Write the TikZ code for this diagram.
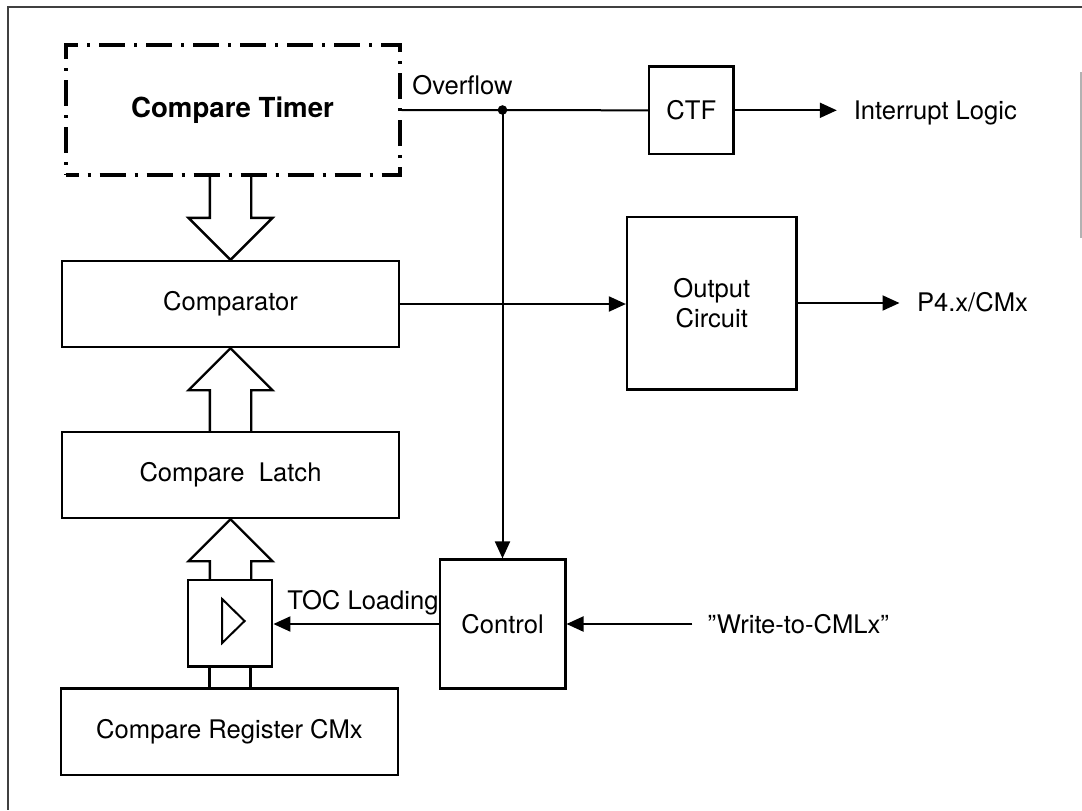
\documentclass[tikz,border=0pt]{standalone}
\usepackage{fontspec}
\setmainfont{TeX Gyre Heros}
\usetikzlibrary{arrows.meta,calc}

\begin{document}
\begin{tikzpicture}[x=0.5pt, y=-0.5pt,
                    line width=1pt,
                    font=\fontsize{12.8}{15}\selectfont,
                    >={Triangle[length=8.5pt,width=7.5pt]},
                    ]
    \tikzstyle{block}=[draw,line width=1.2pt,inner sep=0pt,align=center]
    \tikzstyle{wide}=[block,minimum width=168.5pt,minimum height=43pt]
    \tikzstyle{timerbox}=[block,line width=2pt,minimum width=167pt,minimum height=65pt,
                          dash pattern=on 13pt off 4.5pt on 1.5pt off 4.5pt,dash phase=6.5pt,
                          font=\fontsize{13.8}{16}\selectfont\bfseries]
    \tikzstyle{sigtext}=[inner sep=0pt,text height=9.2pt,text depth=0pt]
    \tikzstyle{bus}=[line width=1.2pt,line join=miter]
    \tikzstyle{frame}=[line width=0.7pt,black!75]

    \useasboundingbox (0,0) rectangle (1082,810);
    \path[draw,frame] (1082,7) -- (8,7) -- (8,810);
    \path[draw,frame,black!30] (1081,72) -- (1081,238);

    % left column
    \node[timerbox] (timer) at (232.5,110) {Compare Timer};
    \node[wide] (comp) at (230.5,304) {Comparator};
    \node[wide] (latch) at (230.5,475) {Compare\ \ Latch};
    \node[block,minimum width=42.2pt,minimum height=43.3pt] (buf) at (230,623.3) {};
    \node[wide,minimum height=43.3pt] (reg) at (229.5,731.7) {Compare Register CMx};

    % right side
    \node[block,minimum width=62.8pt,minimum height=64.4pt] (ctrl) at (502.5,624) {Control};
    \node[block,minimum width=42.3pt,minimum height=43.7pt] (ctf) at (691.3,110.3) {CTF};
    \node[block,minimum width=84.7pt,minimum height=86.3pt] (out) at (711.8,303) {Output\\Circuit};

    \node[sigtext] (ovf) at (462.5,85) {Overflow};
    \node[sigtext,anchor=west] (intr) at (852.8,110) {Interrupt Logic};
    \node[sigtext,anchor=west] (pin) at (916,302) {P4.x/CMx};
    \node[sigtext,anchor=west] (wr) at (706.7,624) {''Write-to-CMLx''};
    \node[sigtext] (toc) at (363,600) {TOC Loading};
    \coordinate (jct) at (ctrl.north |- timer.east);

    % bus arrows
    \path[draw,bus] ($(comp.north |- timer.south)+(-20.7,0)$) -- ($(comp.north)+(-20.7,-42)$)
        -- ($(comp.north)+(-42,-42)$) -- (comp.north) -- ($(comp.north)+(42,-42)$)
        -- ($(comp.north)+(20.7,-42)$) -- ($(comp.north |- timer.south)+(20.7,0)$);
    \foreach \lo/\hi in {latch/comp, buf/latch} {
        \path[draw,bus] ($(\hi.south |- \lo.north)+(-20.7,0)$) -- ($(\hi.south)+(-20.7,42)$)
            -- ($(\hi.south)+(-42,42)$) -- (\hi.south) -- ($(\hi.south)+(42,42)$)
            -- ($(\hi.south)+(20.7,42)$) -- ($(\hi.south |- \lo.north)+(20.7,0)$);
    }
    \foreach \dx in {-20.5,20.5}
        \path[draw,bus] ($(buf.south)+(\dx,0)$) -- ($(buf.south |- reg.north)+(\dx,0)$);
    \path[draw,line width=1pt,line join=miter] ($(buf.center)+(-7.9,-24.3)$)
        -- ($(buf.center)+(14.6,-2.3)$) -- ($(buf.center)+(-7.9,19.7)$) -- cycle;

    % signals
    \path[draw] (timer.east) -- (ctf.west);
    \fill (jct) circle[radius=2.4pt];
    \path[draw,->] (jct) -- (ctrl.north);
    \path[draw,->] (ctf.east) -- ($(ctf.east -| intr.west)+(-16,0)$);
    \path[draw,->] (comp.east) -- (comp.east -| out.west);
    \path[draw,->] (out.east) -- ($(out.east -| pin.west)+(-16.5,0)$);
    \path[draw,->] ($(wr.west)+(-14.4,0)$) -- (ctrl.east);
    \path[draw,->] (ctrl.west) -- (ctrl.west -| buf.east);
\end{tikzpicture}
\end{document}
